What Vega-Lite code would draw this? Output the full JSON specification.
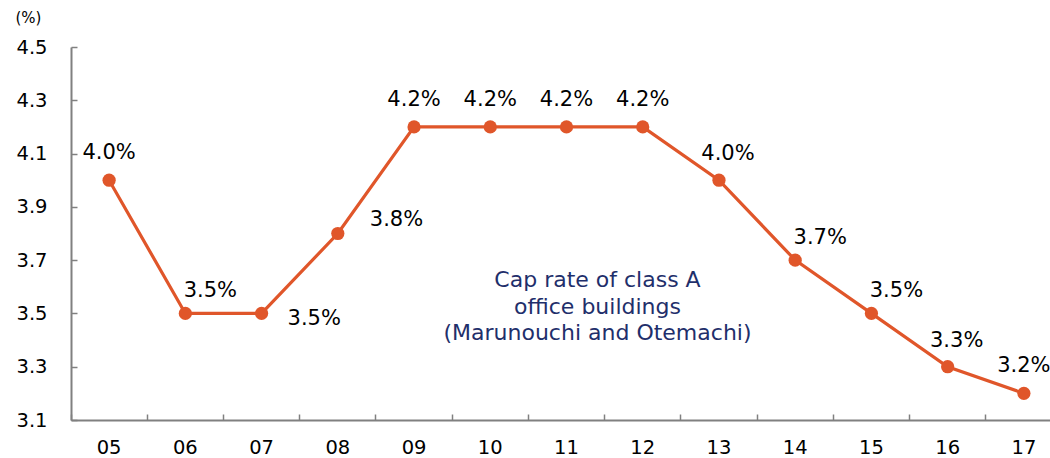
{
  "$schema": "https://vega.github.io/schema/vega-lite/v6.json",
  "autosize": {"type": "none"},
  "width": 979,
  "height": 373,
  "padding": {"left": 71, "top": 47, "right": 0, "bottom": 38},
  "background": "white",
  "config": {
    "view": {"stroke": null},
    "font": "DejaVu Sans",
    "axis": {
      "domainColor": "#808080",
      "domainWidth": 2,
      "tickColor": "#808080",
      "tickWidth": 1.5,
      "labelColor": "#000000",
      "labelFont": "DejaVu Sans",
      "labelFontSize": 19.5,
      "grid": false
    }
  },
  "data": {
    "values": [
      {"year": "05", "rate": 4.0, "label": "4.0%"},
      {"year": "06", "rate": 3.5, "label": "3.5%"},
      {"year": "07", "rate": 3.5, "label": "3.5%"},
      {"year": "08", "rate": 3.8, "label": "3.8%"},
      {"year": "09", "rate": 4.2, "label": "4.2%"},
      {"year": "10", "rate": 4.2, "label": "4.2%"},
      {"year": "11", "rate": 4.2, "label": "4.2%"},
      {"year": "12", "rate": 4.2, "label": "4.2%"},
      {"year": "13", "rate": 4.0, "label": "4.0%"},
      {"year": "14", "rate": 3.7, "label": "3.7%"},
      {"year": "15", "rate": 3.5, "label": "3.5%"},
      {"year": "16", "rate": 3.3, "label": "3.3%"},
      {"year": "17", "rate": 3.2, "label": "3.2%"}
    ]
  },
  "encoding": {
    "x": {
      "field": "year",
      "type": "ordinal",
      "bandPosition": 0.5,
      "scale": {"type": "band", "paddingInner": 0, "paddingOuter": 0, "range": [0, 991]},
      "axis": {
        "title": null,
        "labelAngle": 0,
        "bandPosition": 0,
        "tickSize": -6,
        "labelPadding": 24
      }
    },
    "y": {
      "field": "rate",
      "type": "quantitative",
      "scale": {"domain": [3.1, 4.5], "nice": false, "zero": false},
      "axis": {
        "values": [3.1, 3.3, 3.5, 3.7, 3.9, 4.1, 4.3, 4.5],
        "format": ".1f",
        "tickSize": -6,
        "labelPadding": 30,
        "title": "(%)",
        "titleAngle": 0,
        "titleFontSize": 15,
        "titleFontWeight": "normal",
        "titleColor": "#000000",
        "titleAlign": "center",
        "titleBaseline": "middle",
        "titleX": -43,
        "titleY": -30
      }
    }
  },
  "layer": [
    {"mark": {"type": "line", "color": "#E0562A", "strokeWidth": 3.2}},
    {"mark": {"type": "point", "filled": true, "color": "#E0562A", "opacity": 1, "size": 175}},
    {
      "transform": [{"filter": {"field": "year", "oneOf": ["05", "09", "10", "11", "12", "17"]}}],
      "mark": {"type": "text", "fontSize": 21, "color": "#000000", "baseline": "middle", "align": "center", "dy": -27},
      "encoding": {"text": {"field": "label"}}
    },
    {
      "transform": [{"filter": {"field": "year", "oneOf": ["06", "14", "15"]}}],
      "mark": {"type": "text", "fontSize": 21, "color": "#000000", "baseline": "middle", "align": "center", "dx": 25, "dy": -22},
      "encoding": {"text": {"field": "label"}}
    },
    {
      "transform": [{"filter": {"field": "year", "oneOf": ["13", "16"]}}],
      "mark": {"type": "text", "fontSize": 21, "color": "#000000", "baseline": "middle", "align": "center", "dx": 9, "dy": -26},
      "encoding": {"text": {"field": "label"}}
    },
    {
      "transform": [{"filter": {"field": "year", "oneOf": ["07"]}}],
      "mark": {"type": "text", "fontSize": 21, "color": "#000000", "baseline": "middle", "align": "left", "dx": 26, "dy": 6},
      "encoding": {"text": {"field": "label"}}
    },
    {
      "transform": [{"filter": {"field": "year", "oneOf": ["08"]}}],
      "mark": {"type": "text", "fontSize": 21, "color": "#000000", "baseline": "middle", "align": "left", "dx": 32, "dy": -14},
      "encoding": {"text": {"field": "label"}}
    },
    {
      "data": {"values": [{"year": "11", "rate": 3.625, "note": ["Cap rate of class A", "office buildings", "(Marunouchi and Otemachi)"]}]},
      "mark": {"type": "text", "fontSize": 22, "color": "#1F2F6B", "baseline": "middle", "align": "center", "dx": 31, "lineHeight": 26.5},
      "encoding": {"text": {"field": "note"}}
    }
  ]
}
